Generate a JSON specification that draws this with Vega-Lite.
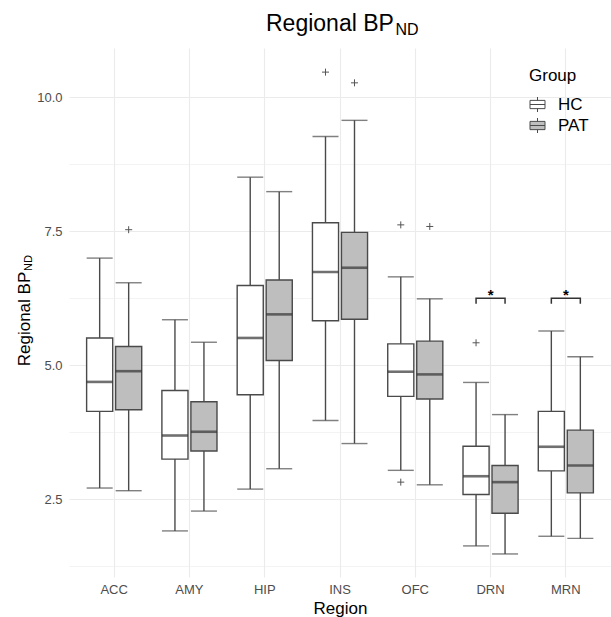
{
  "$schema": "https://vega.github.io/schema/vega-lite/v6.json",
  "autosize": {"type": "none"},
  "padding": {"left": 69, "top": 48, "right": 0, "bottom": 40},
  "width": 542,
  "height": 529,
  "background": "white",
  "config": {
    "font": "Liberation Sans",
    "view": {"stroke": null}
  },
  "title": {
    "text": "Regional BP",
    "fontSize": 23,
    "fontWeight": "normal",
    "color": "black",
    "anchor": "start",
    "frame": "group",
    "align": "left",
    "baseline": "alphabetic",
    "dx": 197,
    "offset": -33
  },
  "datasets": {
    "stats": [
      {"Region": "ACC", "Group": "HC", "lo": 2.71, "q1": 4.14, "med": 4.69, "q3": 5.51, "hi": 7.0},
      {"Region": "ACC", "Group": "PAT", "lo": 2.66, "q1": 4.17, "med": 4.89, "q3": 5.35, "hi": 6.54},
      {"Region": "AMY", "Group": "HC", "lo": 1.91, "q1": 3.25, "med": 3.69, "q3": 4.53, "hi": 5.85},
      {"Region": "AMY", "Group": "PAT", "lo": 2.28, "q1": 3.4, "med": 3.76, "q3": 4.32, "hi": 5.43},
      {"Region": "HIP", "Group": "HC", "lo": 2.69, "q1": 4.45, "med": 5.51, "q3": 6.49, "hi": 8.51},
      {"Region": "HIP", "Group": "PAT", "lo": 3.07, "q1": 5.09, "med": 5.95, "q3": 6.59, "hi": 8.24},
      {"Region": "INS", "Group": "HC", "lo": 3.97, "q1": 5.83, "med": 6.74, "q3": 7.66, "hi": 9.27},
      {"Region": "INS", "Group": "PAT", "lo": 3.54, "q1": 5.86, "med": 6.82, "q3": 7.48, "hi": 9.57},
      {"Region": "OFC", "Group": "HC", "lo": 3.04, "q1": 4.42, "med": 4.88, "q3": 5.4, "hi": 6.65},
      {"Region": "OFC", "Group": "PAT", "lo": 2.77, "q1": 4.37, "med": 4.83, "q3": 5.45, "hi": 6.24},
      {"Region": "DRN", "Group": "HC", "lo": 1.63, "q1": 2.59, "med": 2.93, "q3": 3.49, "hi": 4.68},
      {"Region": "DRN", "Group": "PAT", "lo": 1.48, "q1": 2.24, "med": 2.82, "q3": 3.13, "hi": 4.08},
      {"Region": "MRN", "Group": "HC", "lo": 1.81, "q1": 3.03, "med": 3.48, "q3": 4.14, "hi": 5.64},
      {"Region": "MRN", "Group": "PAT", "lo": 1.77, "q1": 2.62, "med": 3.13, "q3": 3.79, "hi": 5.16}
    ],
    "outliers": [
      {"Region": "ACC", "Group": "PAT", "v": 7.53},
      {"Region": "INS", "Group": "HC", "v": 10.47},
      {"Region": "INS", "Group": "PAT", "v": 10.27},
      {"Region": "OFC", "Group": "HC", "v": 7.62},
      {"Region": "OFC", "Group": "HC", "v": 2.82},
      {"Region": "OFC", "Group": "PAT", "v": 7.59},
      {"Region": "DRN", "Group": "HC", "v": 5.42}
    ],
    "brackets": [
      {"Region": "DRN", "Group": "HC", "v": 6.15, "ord": 1},
      {"Region": "DRN", "Group": "HC", "v": 6.25, "ord": 2},
      {"Region": "DRN", "Group": "PAT", "v": 6.25, "ord": 3},
      {"Region": "DRN", "Group": "PAT", "v": 6.15, "ord": 4},
      {"Region": "MRN", "Group": "HC", "v": 6.15, "ord": 1},
      {"Region": "MRN", "Group": "HC", "v": 6.25, "ord": 2},
      {"Region": "MRN", "Group": "PAT", "v": 6.25, "ord": 3},
      {"Region": "MRN", "Group": "PAT", "v": 6.15, "ord": 4}
    ],
    "stars": [
      {"Region": "DRN", "v": 6.22, "label": "*"},
      {"Region": "MRN", "v": 6.22, "label": "*"}
    ]
  },
  "encoding": {
    "x": {
      "field": "Region",
      "type": "nominal",
      "scale": {"domain": ["ACC", "AMY", "HIP", "INS", "OFC", "DRN", "MRN"], "paddingInner": 0, "paddingOuter": 0.1},
      "axis": {
        "title": "Region",
        "titleFontSize": 17,
        "titleFontWeight": "normal",
        "titleColor": "black",
        "titlePadding": 4,
        "labelFontSize": 13,
        "labelColor": "#4d4d4d",
        "labelPadding": 6,
        "labelAngle": 0,
        "ticks": false,
        "domain": false,
        "grid": true,
        "gridColor": "#ebebeb",
        "gridWidth": 1.1
      }
    }
  },
  "layer": [
    {
      "data": {"name": "stats"},
      "mark": {"type": "rule", "color": "#4a4a4a", "strokeWidth": 1.4},
      "encoding": {
        "xOffset": {"field": "Group", "type": "nominal", "scale": {"domain": ["HC", "PAT"], "paddingInner": 0.1, "paddingOuter": 0.348}},
        "y": {"field": "lo", "type": "quantitative", "scale": {"domain": [1.05, 10.92], "nice": false, "zero": false}, "axis": null},
        "y2": {"field": "hi"}
      }
    },
    {
      "data": {"name": "stats"},
      "mark": {"type": "bar", "stroke": "#4a4a4a", "strokeWidth": 1.4, "opacity": 1},
      "encoding": {
        "xOffset": {"field": "Group", "type": "nominal", "scale": {"domain": ["HC", "PAT"], "paddingInner": 0.1, "paddingOuter": 0.348}},
        "y": {
          "field": "q1", "type": "quantitative",
          "scale": {"domain": [1.05, 10.92], "nice": false, "zero": false},
          "axis": {
            "orient": "left",
            "values": [1.25, 2.5, 3.75, 5, 6.25, 7.5, 8.75, 10],
            "labelExpr": "datum.value % 2.5 === 0 ? format(datum.value, '.1f') : ''",
            "labelFontSize": 13,
            "labelColor": "#4d4d4d",
            "labelPadding": 7,
            "ticks": false,
            "domain": false,
            "grid": true,
            "gridColor": "#ebebeb",
            "gridWidth": {"condition": {"test": "datum.value % 2.5 === 0", "value": 1.1}, "value": 0.6},
            "title": "Regional BP",
            "titleFontSize": 17,
            "titleFontWeight": "normal",
            "titleColor": "black",
            "titleAngle": 270,
            "titleAlign": "center",
            "titleBaseline": "alphabetic",
            "titleX": -39.5,
            "titleY": 270.5
          }
        },
        "y2": {"field": "q3"},
        "fill": {
          "field": "Group", "type": "nominal",
          "scale": {"domain": ["HC", "PAT"], "range": ["#ffffff", "#bebebe"]},
          "legend": {
            "orient": "none",
            "legendX": 460,
            "legendY": 20,
            "title": "Group",
            "titleFontSize": 17,
            "titleFontWeight": "normal",
            "titleColor": "black",
            "titlePadding": 11,
            "labelFontSize": 17,
            "labelColor": "black",
            "labelOffset": 12,
            "rowPadding": 2,
            "symbolType": "M-1,-0.55H1V0.55H-1Z M-1,0H1 M0,-1V-0.55 M0,0.55V1",
            "symbolSize": 225,
            "symbolStrokeColor": "#4a4a4a",
            "symbolStrokeWidth": 1,
            "symbolOpacity": 1
          }
        }
      }
    },
    {
      "data": {"name": "stats"},
      "mark": {"type": "tick", "color": "#333333", "thickness": 2.6, "size": 26},
      "encoding": {
        "xOffset": {"field": "Group", "type": "nominal", "scale": {"domain": ["HC", "PAT"], "paddingInner": 0.1, "paddingOuter": 0.348}},
        "y": {
          "field": "med", "type": "quantitative",
          "scale": {"domain": [1.05, 10.92], "nice": false, "zero": false},
          "axis": {
            "orient": "left",
            "labels": false,
            "ticks": false,
            "domain": false,
            "grid": false,
            "title": "ND",
            "titleFontSize": 11,
            "titleFontWeight": "normal",
            "titleColor": "black",
            "titleAngle": 270,
            "titleAlign": "center",
            "titleBaseline": "alphabetic",
            "titleX": -38,
            "titleY": 214.5
          }
        }
      }
    },
    {
      "data": {"name": "stats"},
      "mark": {"type": "tick", "color": "#4a4a4a", "thickness": 1.4, "size": 26},
      "encoding": {
        "xOffset": {"field": "Group", "type": "nominal", "scale": {"domain": ["HC", "PAT"], "paddingInner": 0.1, "paddingOuter": 0.348}},
        "y": {
          "field": "lo", "type": "quantitative",
          "scale": {"domain": [1.05, 10.92], "nice": false, "zero": false},
          "axis": {
            "orient": "left",
            "labels": false,
            "ticks": false,
            "domain": false,
            "grid": false,
            "title": "ND",
            "titleFontSize": 16,
            "titleFontWeight": "normal",
            "titleColor": "black",
            "titleAngle": 0,
            "titleAlign": "left",
            "titleBaseline": "alphabetic",
            "titleX": 326,
            "titleY": -14
          }
        }
      }
    },
    {
      "data": {"name": "stats"},
      "mark": {"type": "tick", "color": "#4a4a4a", "thickness": 1.4, "size": 26},
      "encoding": {
        "xOffset": {"field": "Group", "type": "nominal", "scale": {"domain": ["HC", "PAT"], "paddingInner": 0.1, "paddingOuter": 0.348}},
        "y": {"field": "hi", "type": "quantitative", "scale": {"domain": [1.05, 10.92], "nice": false, "zero": false}, "axis": null}
      }
    },
    {
      "data": {"name": "outliers"},
      "mark": {"type": "point", "shape": "M-1,0L1,0M0,-1L0,1", "filled": false, "stroke": "#555555", "strokeWidth": 1, "size": 49, "opacity": 1},
      "encoding": {
        "xOffset": {"field": "Group", "type": "nominal", "scale": {"domain": ["HC", "PAT"], "paddingInner": 0.1, "paddingOuter": 0.348}},
        "y": {"field": "v", "type": "quantitative", "scale": {"domain": [1.05, 10.92], "nice": false, "zero": false}, "axis": null}
      }
    },
    {
      "data": {"name": "brackets"},
      "mark": {"type": "line", "color": "#333333", "strokeWidth": 1.5},
      "encoding": {
        "xOffset": {"field": "Group", "type": "nominal", "scale": {"domain": ["HC", "PAT"], "paddingInner": 0.1, "paddingOuter": 0.348}},
        "y": {"field": "v", "type": "quantitative", "scale": {"domain": [1.05, 10.92], "nice": false, "zero": false}, "axis": null},
        "detail": {"field": "Region"},
        "order": {"field": "ord", "type": "quantitative"}
      }
    },
    {
      "data": {"name": "stars"},
      "mark": {"type": "text", "fontSize": 15, "fontWeight": "bold", "color": "black", "baseline": "alphabetic", "align": "center"},
      "encoding": {
        "y": {"field": "v", "type": "quantitative", "scale": {"domain": [1.05, 10.92], "nice": false, "zero": false}, "axis": null},
        "text": {"field": "label"}
      }
    }
  ],
  "resolve": {"axis": {"y": "independent"}}
}
